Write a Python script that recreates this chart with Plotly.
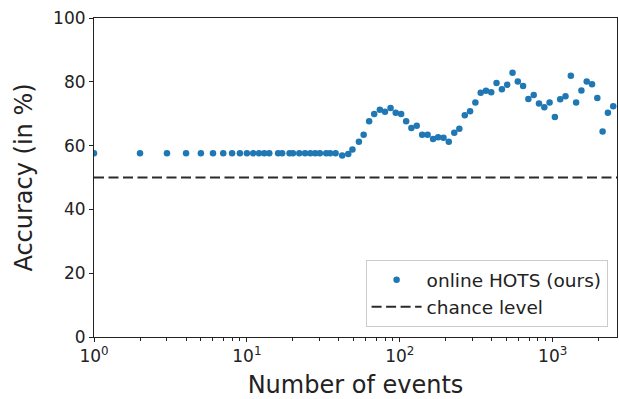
import plotly.graph_objects as go

# Number of events seen before each accuracy measurement
n_events = [1, 2, 3, 4, 5, 6, 7, 8, 9, 10, 11, 12, 13, 14, 16, 17, 19, 20,
            22, 24, 26, 28, 30, 33, 35, 38, 42, 46, 49, 54, 58, 63, 68, 74,
            80, 87, 94, 102, 110, 119, 129, 140, 152, 165, 178, 193, 209,
            227, 245, 266, 288, 312, 338, 366, 396, 429, 465, 504, 546, 591,
            640, 693, 751, 813, 881, 954, 1033, 1119, 1212, 1313, 1422, 1540,
            1668, 1807, 1957, 2119, 2295, 2486]

# Online HOTS classification accuracy (%)
accuracy = [57.6, 57.6, 57.6, 57.6, 57.6, 57.6, 57.6, 57.6, 57.6, 57.6,
            57.6, 57.6, 57.6, 57.6, 57.6, 57.6, 57.6, 57.6, 57.6, 57.6,
            57.6, 57.6, 57.6, 57.6, 57.6, 57.6, 56.9, 57.4, 58.75, 61.2,
            63.4, 67.6, 69.9, 71.25, 70.6, 71.8, 70.3, 69.9, 67.6, 65.5,
            66.2, 63.4, 63.4, 62.1, 62.6, 62.5, 61.2, 64.0, 65.3, 69.5,
            70.8, 73.5, 76.6, 77.2, 76.7, 79.6, 77.7, 79.1, 82.8, 80.1,
            78.7, 74.6, 75.9, 73.2, 72.0, 73.5, 69.0, 74.5, 75.5, 81.9,
            73.5, 77.3, 80.1, 79.2, 74.9, 64.4, 70.3, 72.3]

chance_level = 50.0
x_limits = [1, 2632]

major_ticks = [1, 10, 100, 1000]
major_labels = ["10<sup>0</sup>", "10<sup>1</sup>", "10<sup>2</sup>", "10<sup>3</sup>"]
minor_ticks = [m * d for d in (1, 10, 100) for m in range(2, 10)] + [2000]

FONT = "DejaVu Sans"
INK = "#222222"

fig = go.Figure()
fig.add_trace(go.Scatter(
    x=n_events, y=accuracy, mode="markers", name="online HOTS (ours)",
    marker=dict(color="#1f77b4", size=6.5, line=dict(width=0)),
))
fig.add_trace(go.Scatter(
    x=x_limits, y=[chance_level, chance_level], mode="lines", name="chance level",
    line=dict(color="#2b2b2b", width=2, dash="10px,4.5px"),
))

axis_common = dict(
    showline=True, mirror=True, linecolor=INK, linewidth=1.1,
    ticks="outside", ticklen=4, tickwidth=1, tickcolor=INK,
    showgrid=False, zeroline=False,
    tickfont=dict(family=FONT, size=17, color=INK),
)

fig.update_xaxes(
    type="log", range=[0, 3.4203],
    tickmode="array", tickvals=major_ticks, ticktext=major_labels,
    minor=dict(tickmode="array", tickvals=minor_ticks, ticks="outside",
               ticklen=2.5, tickwidth=1, tickcolor=INK, showgrid=False),
    title=dict(text="Number of events", font=dict(family=FONT, size=24, color=INK),
               standoff=11),
    **axis_common,
)
fig.update_yaxes(
    range=[0, 100], tickmode="array", tickvals=[0, 20, 40, 60, 80, 100],
    title=dict(text="Accuracy (in %)", font=dict(family=FONT, size=24, color=INK),
               standoff=13),
    **axis_common,
)

fig.update_layout(
    width=619, height=399,
    margin=dict(l=94, r=2, t=18, b=62, autoexpand=False),
    paper_bgcolor="white", plot_bgcolor="white",
    font=dict(family=FONT, color=INK),
    showlegend=True,
    legend=dict(
        x=0.982, y=0.031, xanchor="right", yanchor="bottom",
        bgcolor="rgba(255,255,255,0.8)", bordercolor="#cccccc", borderwidth=1,
        font=dict(family=FONT, size=18.5, color=INK),
        itemwidth=50,
    ),
)

fig.write_html("out.html")
